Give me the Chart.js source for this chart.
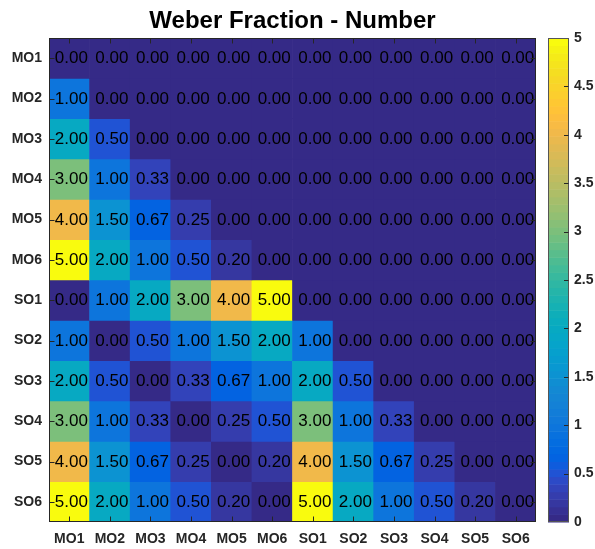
<!DOCTYPE html>
<html>
<head>
<meta charset="utf-8">
<script src="https://cdn.jsdelivr.net/npm/chart.js@4.4.0/dist/chart.umd.min.js"></script>
<style>
  html, body { margin: 0; padding: 0; background: #ffffff; overflow: hidden; }
  canvas { display: block; }
</style>
</head>
<body>
<canvas id="chart" width="595" height="549"></canvas>
<script>
// Conditions compared against each other (rows and columns share the same list)
const rowNames = ['MO1', 'MO2', 'MO3', 'MO4', 'MO5', 'MO6', 'SO1', 'SO2', 'SO3', 'SO4', 'SO5', 'SO6'];
const colNames = ['MO1', 'MO2', 'MO3', 'MO4', 'MO5', 'MO6', 'SO1', 'SO2', 'SO3', 'SO4', 'SO5', 'SO6'];

// Weber fraction per pair, one array per row
const weberFractions = [
  [0.00, 0.00, 0.00, 0.00, 0.00, 0.00, 0.00, 0.00, 0.00, 0.00, 0.00, 0.00],
  [1.00, 0.00, 0.00, 0.00, 0.00, 0.00, 0.00, 0.00, 0.00, 0.00, 0.00, 0.00],
  [2.00, 0.50, 0.00, 0.00, 0.00, 0.00, 0.00, 0.00, 0.00, 0.00, 0.00, 0.00],
  [3.00, 1.00, 0.33, 0.00, 0.00, 0.00, 0.00, 0.00, 0.00, 0.00, 0.00, 0.00],
  [4.00, 1.50, 0.67, 0.25, 0.00, 0.00, 0.00, 0.00, 0.00, 0.00, 0.00, 0.00],
  [5.00, 2.00, 1.00, 0.50, 0.20, 0.00, 0.00, 0.00, 0.00, 0.00, 0.00, 0.00],
  [0.00, 1.00, 2.00, 3.00, 4.00, 5.00, 0.00, 0.00, 0.00, 0.00, 0.00, 0.00],
  [1.00, 0.00, 0.50, 1.00, 1.50, 2.00, 1.00, 0.00, 0.00, 0.00, 0.00, 0.00],
  [2.00, 0.50, 0.00, 0.33, 0.67, 1.00, 2.00, 0.50, 0.00, 0.00, 0.00, 0.00],
  [3.00, 1.00, 0.33, 0.00, 0.25, 0.50, 3.00, 1.00, 0.33, 0.00, 0.00, 0.00],
  [4.00, 1.50, 0.67, 0.25, 0.00, 0.20, 4.00, 1.50, 0.67, 0.25, 0.00, 0.00],
  [5.00, 2.00, 1.00, 0.50, 0.20, 0.00, 5.00, 2.00, 1.00, 0.50, 0.20, 0.00]
];

// Colour limits and colour bar ticks
const colorMin = 0;
const colorMax = 5;
const colorbarTicks = [0, 0.5, 1, 1.5, 2, 2.5, 3, 3.5, 4, 4.5, 5];

// 64-step parula colour map (RGB, 0..1)
const parula = [
  [0.2081,0.1663,0.5292],[0.2116,0.1898,0.5777],[0.2123,0.2138,0.6270],[0.2081,0.2386,0.6771],
  [0.1959,0.2645,0.7279],[0.1707,0.2919,0.7792],[0.1253,0.3242,0.8303],[0.0591,0.3598,0.8683],
  [0.0117,0.3875,0.8820],[0.0060,0.4086,0.8828],[0.0165,0.4266,0.8786],[0.0329,0.4430,0.8720],
  [0.0498,0.4586,0.8641],[0.0629,0.4737,0.8554],[0.0723,0.4887,0.8467],[0.0779,0.5040,0.8384],
  [0.0793,0.5200,0.8312],[0.0749,0.5375,0.8263],[0.0641,0.5570,0.8240],[0.0488,0.5772,0.8228],
  [0.0343,0.5966,0.8199],[0.0265,0.6137,0.8135],[0.0239,0.6287,0.8038],[0.0231,0.6418,0.7913],
  [0.0228,0.6535,0.7768],[0.0267,0.6642,0.7607],[0.0384,0.6743,0.7436],[0.0590,0.6838,0.7254],
  [0.0843,0.6928,0.7062],[0.1133,0.7015,0.6859],[0.1453,0.7098,0.6646],[0.1801,0.7177,0.6424],
  [0.2178,0.7250,0.6193],[0.2586,0.7317,0.5954],[0.3022,0.7376,0.5712],[0.3482,0.7424,0.5473],
  [0.3953,0.7459,0.5244],[0.4420,0.7481,0.5033],[0.4871,0.7491,0.4840],[0.5300,0.7491,0.4661],
  [0.5709,0.7485,0.4494],[0.6099,0.7473,0.4337],[0.6473,0.7456,0.4188],[0.6834,0.7435,0.4044],
  [0.7184,0.7411,0.3905],[0.7525,0.7384,0.3768],[0.7858,0.7356,0.3633],[0.8185,0.7327,0.3498],
  [0.8507,0.7299,0.3360],[0.8824,0.7274,0.3217],[0.9139,0.7258,0.3063],[0.9450,0.7261,0.2886],
  [0.9739,0.7314,0.2666],[0.9938,0.7455,0.2403],[0.9990,0.7653,0.2164],[0.9955,0.7861,0.1967],
  [0.9880,0.8066,0.1794],[0.9789,0.8271,0.1633],[0.9697,0.8481,0.1475],[0.9626,0.8705,0.1309],
  [0.9589,0.8949,0.1132],[0.9598,0.9218,0.0948],[0.9661,0.9514,0.0755],[0.9763,0.9831,0.0538]
];

function mapColor(index) {
  const c = parula[index];
  return 'rgb(' + c.map(v => Math.round(v * 255)).join(',') + ')';
}

function colorFor(value) {
  const n = parula.length;
  let idx = Math.floor((value - colorMin) / (colorMax - colorMin) * n);
  idx = Math.max(0, Math.min(n - 1, idx));
  return mapColor(idx);
}

const FONT = "'Liberation Sans', Arial, Helvetica, sans-serif";
const AXIS_COLOR = '#262626';

// One floating-bar dataset per row; each bar spans one row band
const datasets = rowNames.map((name, r) => ({
  label: name,
  data: weberFractions[r].map(() => [r - 0.5, r + 0.5]),
  backgroundColor: weberFractions[r].map(colorFor),
  borderWidth: 0,
  grouped: false,
  barPercentage: 1,
  categoryPercentage: 1,
  xAxisID: 'x',
  yAxisID: 'y'
}));

// Fix an axis' thickness and drop the label overhang padding
function fixSize(prop, size) {
  return function (s) {
    s[prop] = size;
    s.paddingTop = 0; s.paddingBottom = 0; s.paddingLeft = 0; s.paddingRight = 0;
  };
}

// Cell values, axes box, inward ticks, title and colour bar
const decorations = {
  id: 'decorations',
  afterDatasetsDraw(chart) {
    const ctx = chart.ctx;
    const area = chart.chartArea;
    const xs = chart.scales.x;
    const ys = chart.scales.y;
    const cb = chart.scales.cb;

    // cell labels
    ctx.save();
    ctx.fillStyle = '#000000';
    ctx.font = '17px ' + FONT;
    ctx.textAlign = 'center';
    ctx.textBaseline = 'middle';
    weberFractions.forEach((row, r) => {
      row.forEach((v, c) => {
        const px = xs.getPixelForValue(c) + 2;
        const py = ys.getPixelForValue(r) + 0.5;
        ctx.fillText(v.toFixed(2), px, py);
      });
    });
    ctx.restore();

    // axes box and inward ticks
    ctx.save();
    ctx.strokeStyle = AXIS_COLOR;
    ctx.lineWidth = 1;
    const L = Math.round(area.left) + 0.5, R = Math.round(area.right) - 0.5;
    const T = Math.round(area.top) + 0.5, B = Math.round(area.bottom) - 0.5;
    ctx.strokeRect(L, T, R - L, B - T);
    const tick = 5;
    ctx.beginPath();
    colNames.forEach((_, c) => {
      const px = Math.round(xs.getPixelForValue(c)) + 0.5;
      ctx.moveTo(px, B); ctx.lineTo(px, B - tick);
      ctx.moveTo(px, T); ctx.lineTo(px, T + tick);
    });
    rowNames.forEach((_, r) => {
      const py = Math.round(ys.getPixelForValue(r)) + 0.5;
      ctx.moveTo(L, py); ctx.lineTo(L + tick, py);
      ctx.moveTo(R, py); ctx.lineTo(R - tick, py);
    });
    ctx.stroke();
    ctx.restore();

    // colour bar
    ctx.save();
    const cbLeft = cb.left + 12;
    const cbRight = cb.left + 33;
    const n = parula.length;
    for (let k = 0; k < n; k++) {
      const lo = colorMin + (colorMax - colorMin) * k / n;
      const hi = colorMin + (colorMax - colorMin) * (k + 1) / n;
      const y0 = cb.getPixelForValue(hi);
      const y1 = cb.getPixelForValue(lo);
      ctx.fillStyle = mapColor(k);
      ctx.fillRect(cbLeft, y0, cbRight - cbLeft, y1 - y0 + 0.5);
    }
    ctx.strokeStyle = '#555555';
    ctx.lineWidth = 1;
    const cT = Math.round(cb.getPixelForValue(colorMax)) + 0.5;
    const cB = Math.round(cb.getPixelForValue(colorMin)) - 0.5;
    ctx.strokeRect(cbLeft + 0.5, cT, cbRight - cbLeft - 1, cB - cT);
    ctx.strokeStyle = AXIS_COLOR;
    ctx.beginPath();
    colorbarTicks.forEach(v => {
      if (v === colorMin || v === colorMax) return;
      const py = Math.round(cb.getPixelForValue(v)) + 0.5;
      ctx.moveTo(cbRight - 0.5, py); ctx.lineTo(cbRight - 5, py);
    });
    ctx.stroke();
    ctx.restore();

    // title centred over the plot area
    ctx.save();
    ctx.fillStyle = '#000000';
    ctx.font = 'bold 24px ' + FONT;
    ctx.textAlign = 'center';
    ctx.textBaseline = 'alphabetic';
    ctx.fillText('Weber Fraction - Number', (area.left + area.right) / 2, 28);
    ctx.restore();
  }
};

const tickFont = { family: FONT, size: 14, weight: 'bold' };

new Chart(document.getElementById('chart'), {
  type: 'bar',
  data: { labels: colNames, datasets },
  options: {
    responsive: false,
    animation: false,
    devicePixelRatio: 1,
    layout: { padding: { top: 38, left: 0, right: 0, bottom: 0 } },
    plugins: {
      legend: { display: false },
      tooltip: { enabled: false },
      title: { display: false }
    },
    scales: {
      x: {
        type: 'category',
        position: 'bottom',
        offset: true,
        grid: { display: false, drawTicks: false },
        border: { display: false },
        ticks: { color: AXIS_COLOR, font: tickFont, padding: 9, maxRotation: 0, autoSkip: false },
        afterFit: fixSize('height', 27)
      },
      y: {
        type: 'linear',
        position: 'left',
        min: -0.5,
        max: 11.5,
        reverse: true,
        grid: { display: false, drawTicks: false },
        border: { display: false },
        afterBuildTicks(s) { s.ticks = rowNames.map((_, i) => ({ value: i })); },
        ticks: { color: AXIS_COLOR, font: tickFont, padding: 7, callback: v => rowNames[v] },
        afterFit: fixSize('width', 49)
      },
      cb: {
        type: 'linear',
        position: 'right',
        min: colorMin,
        max: colorMax,
        grid: { display: false, drawTicks: false },
        border: { display: false },
        afterBuildTicks(s) { s.ticks = colorbarTicks.map(v => ({ value: v })); },
        ticks: { color: AXIS_COLOR, font: { family: FONT, size: 14, weight: 'bold' }, padding: 38, callback: v => String(v) },
        afterFit: fixSize('width', 59)
      }
    }
  },
  plugins: [decorations]
});
</script>
</body>
</html>
